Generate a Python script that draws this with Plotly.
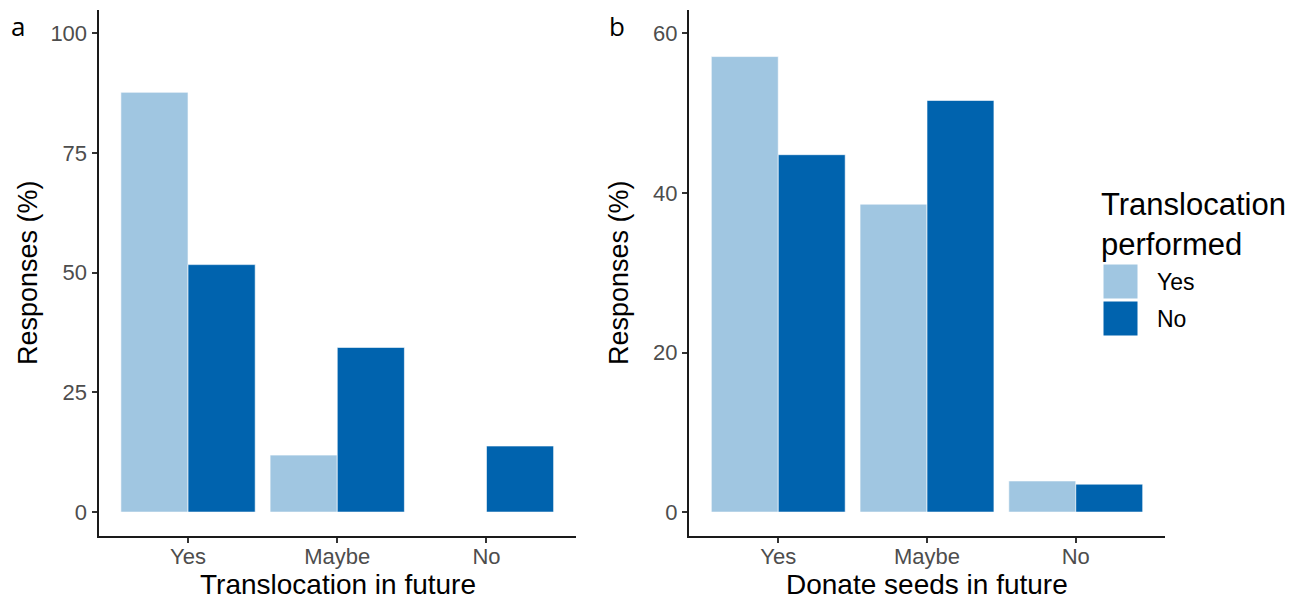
import plotly.graph_objects as go
from plotly.subplots import make_subplots

categories = ["Yes", "Maybe", "No"]
groups = ["Yes", "No"]
panel_a_yes = [87.7, 11.9, 0.0]
panel_a_no = [51.7, 34.4, 13.8]
panel_b_yes = [57.1, 38.6, 3.9]
panel_b_no = [44.8, 51.6, 3.5]
a_yticks = [0, 25, 50, 75, 100]
b_yticks = [0, 20, 40, 60]

light = "#A0C6E1"
dark = "#0063AE"
FONT = "Liberation Sans"

# page body has an 8px margin; figure sized to fit the window
OFF = 8
W, H = 1290, 592


def px_x(p):
    return (p - OFF) / W


def px_y(p):
    return 1 - (p - OFF) / H


fig = make_subplots(rows=1, cols=2)

for col, (yes_vals, no_vals) in enumerate([(panel_a_yes, panel_a_no), (panel_b_yes, panel_b_no)], start=1):
    fig.add_trace(go.Bar(x=categories, y=yes_vals, name="Yes", marker=dict(color=light, line=dict(color="white", width=0.6)),
                         showlegend=False), row=1, col=col)
    fig.add_trace(go.Bar(x=categories, y=no_vals, name="No", marker=dict(color=dark, line=dict(color="white", width=0.6)),
                         showlegend=False), row=1, col=col)

ydom = [px_y(536), px_y(9.5)]
axcommon = dict(showline=True, linecolor="#1a1a1a", linewidth=2, ticks="outside", ticklen=5, tickwidth=1.5,
                tickcolor="#333333", showgrid=False, zeroline=False,
                tickfont=dict(family=FONT, size=22, color="#4D4D4D"))

fig.update_layout(
    xaxis=dict(domain=[px_x(98.5), px_x(576)], range=[-0.6, 2.6], ticklabelstandoff=-5, **axcommon),
    xaxis2=dict(domain=[px_x(689), px_x(1165)], range=[-0.6, 2.6], ticklabelstandoff=-5, **axcommon),
    yaxis=dict(domain=ydom, range=[-5, 105], tickvals=a_yticks, **axcommon),
    yaxis2=dict(domain=ydom, range=[-3, 63], tickvals=b_yticks, **axcommon),
    barmode="group", bargap=0.1, bargroupgap=0,
    plot_bgcolor="white", paper_bgcolor="white",
    width=W, height=H, margin=dict(l=0, r=0, t=0, b=0),
    showlegend=False,
)

anns = []
# panel labels
anns.append(dict(text="a", x=px_x(10), y=px_y(26), xanchor="left", yanchor="middle", font=dict(family="Open Sans", size=26, color="black")))
anns.append(dict(text="b", x=px_x(608), y=px_y(26), xanchor="left", yanchor="middle", font=dict(family="Open Sans", size=26, color="black")))
# axis titles
anns.append(dict(text="Responses (%)", x=px_x(28), y=px_y(273), textangle=-90, xanchor="center", yanchor="middle",
                 font=dict(family=FONT, size=27, color="black")))
anns.append(dict(text="Responses (%)", x=px_x(619), y=px_y(273), textangle=-90, xanchor="center", yanchor="middle",
                 font=dict(family=FONT, size=27, color="black")))
anns.append(dict(text="Translocation in future", x=px_x(338), y=px_y(584), xanchor="center", yanchor="middle",
                 font=dict(family=FONT, size=28, color="black")))
anns.append(dict(text="Donate seeds in future", x=px_x(927), y=px_y(584), xanchor="center", yanchor="middle",
                 font=dict(family=FONT, size=28, color="black")))
# legend
anns.append(dict(text="Translocation<br>performed", x=px_x(1100), y=px_y(186), xanchor="left", yanchor="top", align="left",
                 font=dict(family=FONT, size=31, color="black")))
anns.append(dict(text=groups[0], x=px_x(1156), y=px_y(282), xanchor="left", yanchor="middle",
                 font=dict(family=FONT, size=23, color="black")))
anns.append(dict(text=groups[1], x=px_x(1156), y=px_y(319), xanchor="left", yanchor="middle",
                 font=dict(family=FONT, size=23, color="black")))
for a in anns:
    a.update(xref="paper", yref="paper", showarrow=False, borderpad=0)
fig.update_layout(annotations=anns)

fig.add_shape(type="rect", xref="paper", yref="paper", x0=px_x(1103), x1=px_x(1138), y0=px_y(264), y1=px_y(299),
              fillcolor=light, line=dict(color="white", width=1))
fig.add_shape(type="rect", xref="paper", yref="paper", x0=px_x(1103), x1=px_x(1138), y0=px_y(301), y1=px_y(336),
              fillcolor=dark, line=dict(color="white", width=1))

fig.write_html("out.html")
